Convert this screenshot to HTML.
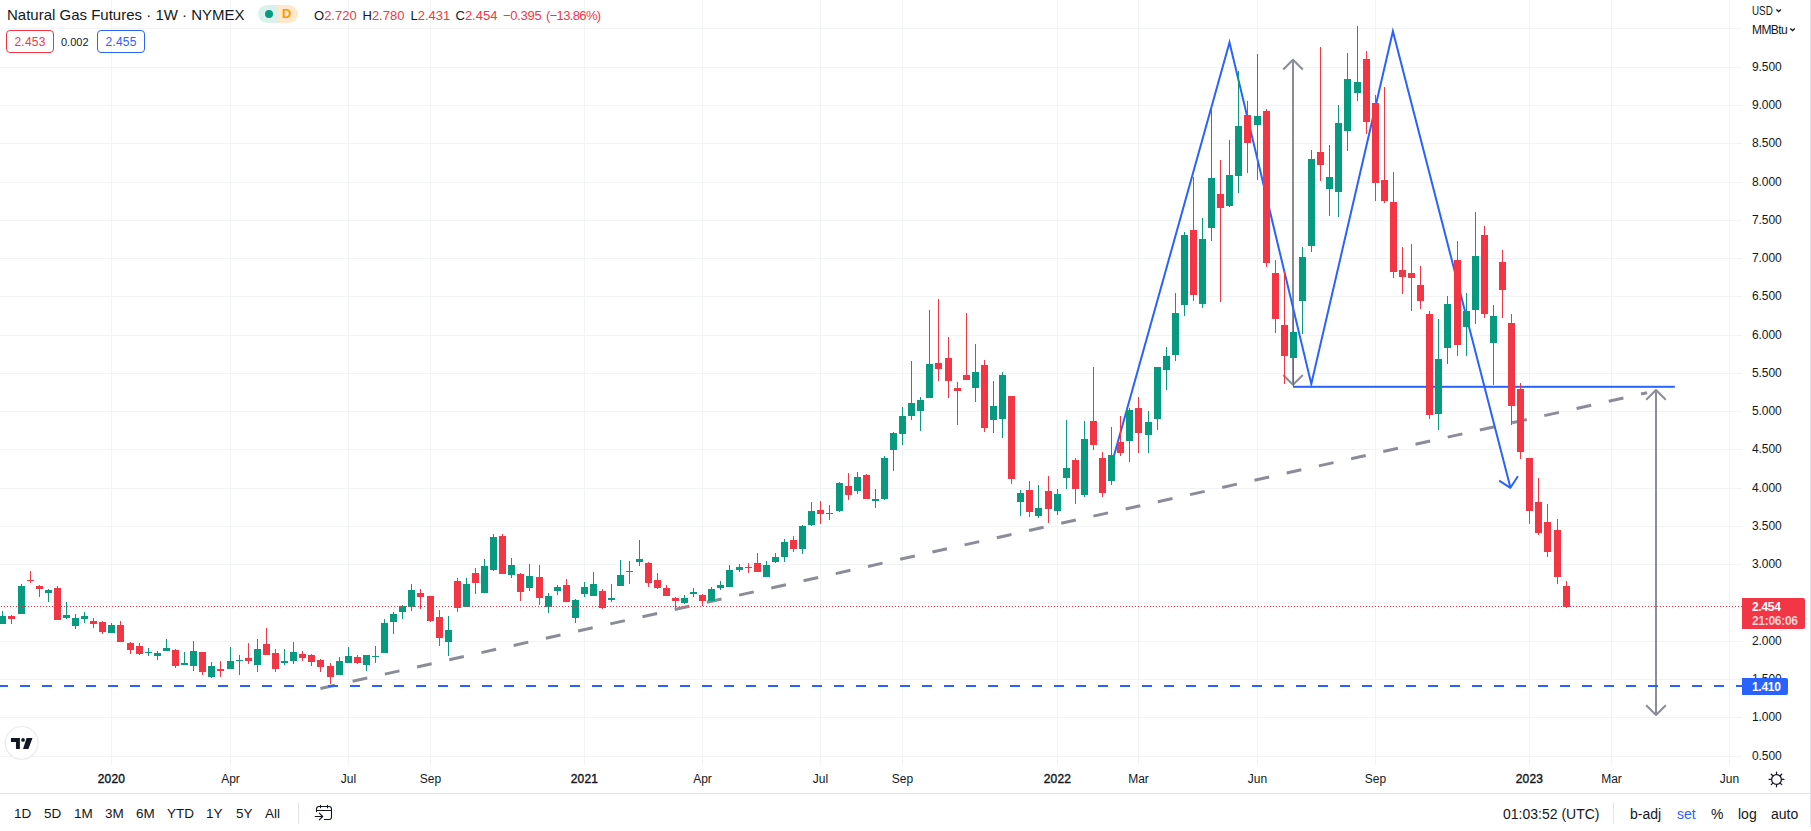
<!DOCTYPE html>
<html lang="en"><head><meta charset="utf-8"><title>Natural Gas Futures</title>
<style>
html,body{margin:0;padding:0}
body{width:1811px;height:831px;overflow:hidden;background:#fff;position:relative;font-family:"Liberation Sans",sans-serif;color:#131722;font-size:12px}
#chart{position:absolute;left:0;top:0}
.abs{position:absolute;white-space:nowrap}
.pl{position:absolute;left:1752px;width:40px;height:14px;line-height:14px;font-size:12px;letter-spacing:-0.1px}
.tl{position:absolute;top:772px;width:61px;text-align:center;height:14px;line-height:14px;font-size:12px}
.tl.b{-webkit-text-stroke:.4px #131722;letter-spacing:.2px}
.tb{position:absolute;top:806px;height:16px;line-height:16px;font-size:13.5px;white-space:nowrap}
.red{color:#f23645}
</style></head><body>
<svg id="chart" width="1811" height="794" viewBox="0 0 1811 794">
<rect x="0" y="756" width="1742" height="1" fill="#f2f3f4"/>
<rect x="0" y="717" width="1742" height="1" fill="#f2f3f4"/>
<rect x="0" y="679" width="1742" height="1" fill="#f2f3f4"/>
<rect x="0" y="641" width="1742" height="1" fill="#f2f3f4"/>
<rect x="0" y="602" width="1742" height="1" fill="#f2f3f4"/>
<rect x="0" y="564" width="1742" height="1" fill="#f2f3f4"/>
<rect x="0" y="526" width="1742" height="1" fill="#f2f3f4"/>
<rect x="0" y="488" width="1742" height="1" fill="#f2f3f4"/>
<rect x="0" y="449" width="1742" height="1" fill="#f2f3f4"/>
<rect x="0" y="411" width="1742" height="1" fill="#f2f3f4"/>
<rect x="0" y="373" width="1742" height="1" fill="#f2f3f4"/>
<rect x="0" y="335" width="1742" height="1" fill="#f2f3f4"/>
<rect x="0" y="296" width="1742" height="1" fill="#f2f3f4"/>
<rect x="0" y="258" width="1742" height="1" fill="#f2f3f4"/>
<rect x="0" y="220" width="1742" height="1" fill="#f2f3f4"/>
<rect x="0" y="182" width="1742" height="1" fill="#f2f3f4"/>
<rect x="0" y="143" width="1742" height="1" fill="#f2f3f4"/>
<rect x="0" y="105" width="1742" height="1" fill="#f2f3f4"/>
<rect x="0" y="67" width="1742" height="1" fill="#f2f3f4"/>
<rect x="0" y="28" width="1742" height="1" fill="#f2f3f4"/>
<rect x="111" y="0" width="1" height="765" fill="#f2f3f4"/>
<rect x="230" y="0" width="1" height="765" fill="#f2f3f4"/>
<rect x="348" y="0" width="1" height="765" fill="#f2f3f4"/>
<rect x="430" y="0" width="1" height="765" fill="#f2f3f4"/>
<rect x="584" y="0" width="1" height="765" fill="#f2f3f4"/>
<rect x="702" y="0" width="1" height="765" fill="#f2f3f4"/>
<rect x="820" y="0" width="1" height="765" fill="#f2f3f4"/>
<rect x="902" y="0" width="1" height="765" fill="#f2f3f4"/>
<rect x="1057" y="0" width="1" height="765" fill="#f2f3f4"/>
<rect x="1138" y="0" width="1" height="765" fill="#f2f3f4"/>
<rect x="1257" y="0" width="1" height="765" fill="#f2f3f4"/>
<rect x="1375" y="0" width="1" height="765" fill="#f2f3f4"/>
<rect x="1529" y="0" width="1" height="765" fill="#f2f3f4"/>
<rect x="1611" y="0" width="1" height="765" fill="#f2f3f4"/>
<rect x="1729" y="0" width="1" height="765" fill="#f2f3f4"/>
<line x1="320.4" y1="688.5" x2="1647.1" y2="392.7" stroke="#8a8d98" stroke-width="3" stroke-dasharray="15 18"/>
<path d="M1293 59.7V384.8M1283.2 69.5L1293 59.7L1302.8 69.5M1283.2 375.0L1293 384.8L1302.8 375.0" fill="none" stroke="#8a8d98" stroke-width="2" stroke-linejoin="round"/>
<path d="M1656 390V715M1646.2 399.8L1656 390L1665.8 399.8M1646.2 705.2L1656 715L1665.8 705.2" fill="none" stroke="#8a8d98" stroke-width="2" stroke-linejoin="round"/>
<path d="M1112.5 461L1229.5 42.6L1311.3 384L1392.9 31.3L1510.4 487.5" fill="none" stroke="#2962ff" stroke-width="2" stroke-miterlimit="10"/>
<path d="M1499.2 480.6L1510.4 487.8L1517.9 476.2" fill="none" stroke="#2962ff" stroke-width="2" stroke-linejoin="round"/>
<rect x="1293" y="385.8" width="381.8" height="2" fill="#2962ff"/>
<g shape-rendering="crispEdges"><rect x="2" y="611" width="1" height="13" fill="#089981"/><rect x="-1" y="616" width="7" height="8" fill="#089981"/><rect x="11" y="615" width="1" height="9" fill="#f23645"/><rect x="8" y="616" width="7" height="3" fill="#f23645"/><rect x="21" y="584" width="1" height="30" fill="#089981"/><rect x="18" y="586" width="7" height="28" fill="#089981"/><rect x="30" y="571" width="1" height="12" fill="#f23645"/><rect x="27" y="580" width="7" height="1" fill="#f23645"/><rect x="39" y="585" width="1" height="12" fill="#f23645"/><rect x="36" y="586" width="7" height="3" fill="#f23645"/><rect x="48" y="589" width="1" height="13" fill="#089981"/><rect x="45" y="590" width="7" height="3" fill="#089981"/><rect x="57" y="586" width="1" height="34" fill="#f23645"/><rect x="54" y="588" width="7" height="32" fill="#f23645"/><rect x="66" y="602" width="1" height="17" fill="#089981"/><rect x="63" y="615" width="7" height="3" fill="#089981"/><rect x="75" y="614" width="1" height="15" fill="#089981"/><rect x="72" y="618" width="7" height="8" fill="#089981"/><rect x="84" y="612" width="1" height="11" fill="#089981"/><rect x="81" y="616" width="7" height="3" fill="#089981"/><rect x="93" y="618" width="1" height="10" fill="#f23645"/><rect x="90" y="621" width="7" height="3" fill="#f23645"/><rect x="102" y="621" width="1" height="13" fill="#f23645"/><rect x="99" y="622" width="7" height="10" fill="#f23645"/><rect x="111" y="623" width="1" height="10" fill="#089981"/><rect x="108" y="625" width="7" height="8" fill="#089981"/><rect x="120" y="621" width="1" height="21" fill="#f23645"/><rect x="117" y="625" width="7" height="17" fill="#f23645"/><rect x="130" y="642" width="1" height="12" fill="#f23645"/><rect x="127" y="643" width="7" height="7" fill="#f23645"/><rect x="139" y="643" width="1" height="12" fill="#f23645"/><rect x="136" y="646" width="7" height="8" fill="#f23645"/><rect x="148" y="648" width="1" height="8" fill="#089981"/><rect x="145" y="652" width="7" height="1" fill="#089981"/><rect x="157" y="651" width="1" height="9" fill="#089981"/><rect x="154" y="653" width="7" height="3" fill="#089981"/><rect x="166" y="639" width="1" height="12" fill="#089981"/><rect x="163" y="648" width="7" height="3" fill="#089981"/><rect x="175" y="649" width="1" height="19" fill="#f23645"/><rect x="172" y="650" width="7" height="16" fill="#f23645"/><rect x="184" y="652" width="1" height="13" fill="#089981"/><rect x="181" y="663" width="7" height="2" fill="#089981"/><rect x="193" y="641" width="1" height="30" fill="#089981"/><rect x="190" y="651" width="7" height="15" fill="#089981"/><rect x="202" y="652" width="1" height="23" fill="#f23645"/><rect x="199" y="652" width="7" height="20" fill="#f23645"/><rect x="211" y="662" width="1" height="16" fill="#089981"/><rect x="208" y="666" width="7" height="11" fill="#089981"/><rect x="220" y="661" width="1" height="16" fill="#f23645"/><rect x="217" y="669" width="7" height="2" fill="#f23645"/><rect x="230" y="647" width="1" height="22" fill="#089981"/><rect x="227" y="661" width="7" height="8" fill="#089981"/><rect x="239" y="655" width="1" height="20" fill="#089981"/><rect x="236" y="660" width="7" height="1" fill="#089981"/><rect x="248" y="643" width="1" height="21" fill="#f23645"/><rect x="245" y="658" width="7" height="3" fill="#f23645"/><rect x="257" y="639" width="1" height="33" fill="#089981"/><rect x="254" y="649" width="7" height="16" fill="#089981"/><rect x="266" y="628" width="1" height="27" fill="#f23645"/><rect x="263" y="644" width="7" height="11" fill="#f23645"/><rect x="275" y="649" width="1" height="23" fill="#f23645"/><rect x="272" y="653" width="7" height="16" fill="#f23645"/><rect x="284" y="649" width="1" height="16" fill="#089981"/><rect x="281" y="661" width="7" height="2" fill="#089981"/><rect x="293" y="642" width="1" height="22" fill="#089981"/><rect x="290" y="652" width="7" height="9" fill="#089981"/><rect x="302" y="651" width="1" height="10" fill="#f23645"/><rect x="299" y="654" width="7" height="4" fill="#f23645"/><rect x="311" y="654" width="1" height="12" fill="#f23645"/><rect x="308" y="655" width="7" height="7" fill="#f23645"/><rect x="320" y="659" width="1" height="13" fill="#f23645"/><rect x="317" y="660" width="7" height="7" fill="#f23645"/><rect x="330" y="663" width="1" height="21" fill="#f23645"/><rect x="327" y="666" width="7" height="11" fill="#f23645"/><rect x="339" y="657" width="1" height="18" fill="#089981"/><rect x="336" y="661" width="7" height="14" fill="#089981"/><rect x="348" y="647" width="1" height="16" fill="#089981"/><rect x="345" y="656" width="7" height="7" fill="#089981"/><rect x="357" y="655" width="1" height="9" fill="#f23645"/><rect x="354" y="657" width="7" height="6" fill="#f23645"/><rect x="366" y="655" width="1" height="16" fill="#089981"/><rect x="363" y="655" width="7" height="10" fill="#089981"/><rect x="375" y="646" width="1" height="17" fill="#089981"/><rect x="372" y="656" width="7" height="1" fill="#089981"/><rect x="384" y="619" width="1" height="34" fill="#089981"/><rect x="381" y="623" width="7" height="30" fill="#089981"/><rect x="393" y="612" width="1" height="22" fill="#089981"/><rect x="390" y="614" width="7" height="8" fill="#089981"/><rect x="402" y="605" width="1" height="14" fill="#089981"/><rect x="399" y="606" width="7" height="6" fill="#089981"/><rect x="411" y="584" width="1" height="27" fill="#089981"/><rect x="408" y="590" width="7" height="17" fill="#089981"/><rect x="420" y="589" width="1" height="20" fill="#f23645"/><rect x="417" y="593" width="7" height="4" fill="#f23645"/><rect x="430" y="596" width="1" height="26" fill="#f23645"/><rect x="427" y="596" width="7" height="25" fill="#f23645"/><rect x="439" y="610" width="1" height="36" fill="#f23645"/><rect x="436" y="617" width="7" height="21" fill="#f23645"/><rect x="448" y="616" width="1" height="40" fill="#089981"/><rect x="445" y="630" width="7" height="12" fill="#089981"/><rect x="457" y="578" width="1" height="34" fill="#f23645"/><rect x="454" y="581" width="7" height="27" fill="#f23645"/><rect x="466" y="578" width="1" height="29" fill="#089981"/><rect x="463" y="584" width="7" height="23" fill="#089981"/><rect x="475" y="568" width="1" height="26" fill="#f23645"/><rect x="472" y="573" width="7" height="10" fill="#f23645"/><rect x="484" y="559" width="1" height="34" fill="#089981"/><rect x="481" y="566" width="7" height="27" fill="#089981"/><rect x="493" y="534" width="1" height="37" fill="#089981"/><rect x="490" y="537" width="7" height="33" fill="#089981"/><rect x="502" y="534" width="1" height="40" fill="#f23645"/><rect x="499" y="536" width="7" height="38" fill="#f23645"/><rect x="511" y="558" width="1" height="20" fill="#089981"/><rect x="508" y="565" width="7" height="10" fill="#089981"/><rect x="520" y="573" width="1" height="28" fill="#f23645"/><rect x="517" y="574" width="7" height="18" fill="#f23645"/><rect x="529" y="564" width="1" height="27" fill="#089981"/><rect x="526" y="576" width="7" height="12" fill="#089981"/><rect x="539" y="565" width="1" height="40" fill="#f23645"/><rect x="536" y="577" width="7" height="21" fill="#f23645"/><rect x="548" y="593" width="1" height="20" fill="#089981"/><rect x="545" y="596" width="7" height="11" fill="#089981"/><rect x="557" y="585" width="1" height="10" fill="#089981"/><rect x="554" y="587" width="7" height="4" fill="#089981"/><rect x="566" y="579" width="1" height="23" fill="#f23645"/><rect x="563" y="585" width="7" height="17" fill="#f23645"/><rect x="575" y="599" width="1" height="24" fill="#089981"/><rect x="572" y="600" width="7" height="18" fill="#089981"/><rect x="584" y="582" width="1" height="15" fill="#089981"/><rect x="581" y="587" width="7" height="7" fill="#089981"/><rect x="593" y="572" width="1" height="24" fill="#089981"/><rect x="590" y="584" width="7" height="12" fill="#089981"/><rect x="602" y="589" width="1" height="20" fill="#f23645"/><rect x="599" y="591" width="7" height="17" fill="#f23645"/><rect x="611" y="584" width="1" height="18" fill="#089981"/><rect x="608" y="598" width="7" height="2" fill="#089981"/><rect x="620" y="560" width="1" height="26" fill="#089981"/><rect x="617" y="575" width="7" height="11" fill="#089981"/><rect x="629" y="561" width="1" height="23" fill="#089981"/><rect x="626" y="571" width="7" height="1" fill="#089981"/><rect x="639" y="540" width="1" height="26" fill="#089981"/><rect x="636" y="559" width="7" height="3" fill="#089981"/><rect x="648" y="562" width="1" height="25" fill="#f23645"/><rect x="645" y="563" width="7" height="20" fill="#f23645"/><rect x="657" y="573" width="1" height="16" fill="#f23645"/><rect x="654" y="580" width="7" height="8" fill="#f23645"/><rect x="666" y="585" width="1" height="11" fill="#f23645"/><rect x="663" y="588" width="7" height="8" fill="#f23645"/><rect x="675" y="597" width="1" height="11" fill="#f23645"/><rect x="672" y="598" width="7" height="3" fill="#f23645"/><rect x="684" y="595" width="1" height="9" fill="#089981"/><rect x="681" y="598" width="7" height="5" fill="#089981"/><rect x="693" y="588" width="1" height="9" fill="#089981"/><rect x="690" y="592" width="7" height="2" fill="#089981"/><rect x="702" y="594" width="1" height="12" fill="#f23645"/><rect x="699" y="595" width="7" height="6" fill="#f23645"/><rect x="711" y="587" width="1" height="14" fill="#089981"/><rect x="708" y="589" width="7" height="12" fill="#089981"/><rect x="720" y="581" width="1" height="9" fill="#089981"/><rect x="717" y="585" width="7" height="3" fill="#089981"/><rect x="729" y="565" width="1" height="22" fill="#089981"/><rect x="726" y="570" width="7" height="17" fill="#089981"/><rect x="739" y="564" width="1" height="8" fill="#089981"/><rect x="736" y="567" width="7" height="3" fill="#089981"/><rect x="748" y="563" width="1" height="10" fill="#f23645"/><rect x="745" y="567" width="7" height="1" fill="#f23645"/><rect x="757" y="553" width="1" height="19" fill="#f23645"/><rect x="754" y="563" width="7" height="9" fill="#f23645"/><rect x="766" y="561" width="1" height="16" fill="#089981"/><rect x="763" y="565" width="7" height="12" fill="#089981"/><rect x="775" y="553" width="1" height="10" fill="#089981"/><rect x="772" y="557" width="7" height="5" fill="#089981"/><rect x="784" y="539" width="1" height="23" fill="#089981"/><rect x="781" y="542" width="7" height="15" fill="#089981"/><rect x="793" y="536" width="1" height="16" fill="#f23645"/><rect x="790" y="540" width="7" height="9" fill="#f23645"/><rect x="802" y="525" width="1" height="29" fill="#089981"/><rect x="799" y="526" width="7" height="23" fill="#089981"/><rect x="811" y="502" width="1" height="24" fill="#089981"/><rect x="808" y="511" width="7" height="14" fill="#089981"/><rect x="820" y="501" width="1" height="23" fill="#f23645"/><rect x="817" y="510" width="7" height="4" fill="#f23645"/><rect x="829" y="505" width="1" height="15" fill="#089981"/><rect x="826" y="513" width="7" height="1" fill="#089981"/><rect x="839" y="482" width="1" height="30" fill="#089981"/><rect x="836" y="483" width="7" height="28" fill="#089981"/><rect x="848" y="473" width="1" height="27" fill="#f23645"/><rect x="845" y="486" width="7" height="9" fill="#f23645"/><rect x="857" y="472" width="1" height="22" fill="#089981"/><rect x="854" y="477" width="7" height="14" fill="#089981"/><rect x="866" y="474" width="1" height="25" fill="#f23645"/><rect x="863" y="475" width="7" height="24" fill="#f23645"/><rect x="875" y="489" width="1" height="19" fill="#089981"/><rect x="872" y="499" width="7" height="2" fill="#089981"/><rect x="884" y="456" width="1" height="44" fill="#089981"/><rect x="881" y="458" width="7" height="41" fill="#089981"/><rect x="893" y="432" width="1" height="39" fill="#089981"/><rect x="890" y="433" width="7" height="17" fill="#089981"/><rect x="902" y="407" width="1" height="38" fill="#089981"/><rect x="899" y="416" width="7" height="18" fill="#089981"/><rect x="911" y="361" width="1" height="59" fill="#089981"/><rect x="908" y="403" width="7" height="13" fill="#089981"/><rect x="920" y="397" width="1" height="34" fill="#089981"/><rect x="917" y="400" width="7" height="11" fill="#089981"/><rect x="929" y="310" width="1" height="88" fill="#089981"/><rect x="926" y="364" width="7" height="34" fill="#089981"/><rect x="938" y="299" width="1" height="82" fill="#f23645"/><rect x="935" y="363" width="7" height="6" fill="#f23645"/><rect x="948" y="337" width="1" height="61" fill="#f23645"/><rect x="945" y="358" width="7" height="23" fill="#f23645"/><rect x="957" y="382" width="1" height="43" fill="#f23645"/><rect x="954" y="388" width="7" height="3" fill="#f23645"/><rect x="966" y="313" width="1" height="67" fill="#f23645"/><rect x="963" y="375" width="7" height="5" fill="#f23645"/><rect x="975" y="344" width="1" height="58" fill="#089981"/><rect x="972" y="372" width="7" height="16" fill="#089981"/><rect x="984" y="360" width="1" height="72" fill="#f23645"/><rect x="981" y="365" width="7" height="63" fill="#f23645"/><rect x="993" y="381" width="1" height="52" fill="#089981"/><rect x="990" y="406" width="7" height="14" fill="#089981"/><rect x="1002" y="372" width="1" height="66" fill="#089981"/><rect x="999" y="375" width="7" height="44" fill="#089981"/><rect x="1011" y="396" width="1" height="88" fill="#f23645"/><rect x="1008" y="396" width="7" height="83" fill="#f23645"/><rect x="1020" y="490" width="1" height="26" fill="#089981"/><rect x="1017" y="493" width="7" height="9" fill="#089981"/><rect x="1029" y="481" width="1" height="36" fill="#f23645"/><rect x="1026" y="490" width="7" height="22" fill="#f23645"/><rect x="1038" y="485" width="1" height="33" fill="#089981"/><rect x="1035" y="508" width="7" height="8" fill="#089981"/><rect x="1048" y="476" width="1" height="47" fill="#f23645"/><rect x="1045" y="491" width="7" height="18" fill="#f23645"/><rect x="1057" y="489" width="1" height="26" fill="#089981"/><rect x="1054" y="494" width="7" height="17" fill="#089981"/><rect x="1066" y="420" width="1" height="69" fill="#089981"/><rect x="1063" y="468" width="7" height="10" fill="#089981"/><rect x="1075" y="458" width="1" height="46" fill="#f23645"/><rect x="1072" y="460" width="7" height="29" fill="#f23645"/><rect x="1084" y="421" width="1" height="76" fill="#089981"/><rect x="1081" y="439" width="7" height="56" fill="#089981"/><rect x="1093" y="367" width="1" height="83" fill="#f23645"/><rect x="1090" y="421" width="7" height="24" fill="#f23645"/><rect x="1102" y="452" width="1" height="45" fill="#f23645"/><rect x="1099" y="458" width="7" height="35" fill="#f23645"/><rect x="1111" y="427" width="1" height="58" fill="#089981"/><rect x="1108" y="455" width="7" height="26" fill="#089981"/><rect x="1120" y="416" width="1" height="40" fill="#f23645"/><rect x="1117" y="442" width="7" height="11" fill="#f23645"/><rect x="1129" y="408" width="1" height="54" fill="#089981"/><rect x="1126" y="410" width="7" height="31" fill="#089981"/><rect x="1138" y="397" width="1" height="56" fill="#f23645"/><rect x="1135" y="408" width="7" height="25" fill="#f23645"/><rect x="1148" y="411" width="1" height="42" fill="#089981"/><rect x="1145" y="422" width="7" height="13" fill="#089981"/><rect x="1157" y="367" width="1" height="63" fill="#089981"/><rect x="1154" y="367" width="7" height="52" fill="#089981"/><rect x="1166" y="347" width="1" height="43" fill="#089981"/><rect x="1163" y="356" width="7" height="14" fill="#089981"/><rect x="1175" y="293" width="1" height="68" fill="#089981"/><rect x="1172" y="313" width="7" height="42" fill="#089981"/><rect x="1184" y="232" width="1" height="84" fill="#089981"/><rect x="1181" y="235" width="7" height="70" fill="#089981"/><rect x="1193" y="177" width="1" height="124" fill="#f23645"/><rect x="1190" y="230" width="7" height="65" fill="#f23645"/><rect x="1202" y="218" width="1" height="90" fill="#089981"/><rect x="1199" y="239" width="7" height="65" fill="#089981"/><rect x="1211" y="105" width="1" height="136" fill="#089981"/><rect x="1208" y="178" width="7" height="50" fill="#089981"/><rect x="1220" y="160" width="1" height="142" fill="#f23645"/><rect x="1217" y="194" width="7" height="14" fill="#f23645"/><rect x="1229" y="140" width="1" height="67" fill="#089981"/><rect x="1226" y="175" width="7" height="31" fill="#089981"/><rect x="1238" y="71" width="1" height="122" fill="#089981"/><rect x="1235" y="126" width="7" height="50" fill="#089981"/><rect x="1247" y="101" width="1" height="72" fill="#f23645"/><rect x="1244" y="115" width="7" height="28" fill="#f23645"/><rect x="1257" y="54" width="1" height="126" fill="#089981"/><rect x="1254" y="116" width="7" height="9" fill="#089981"/><rect x="1266" y="109" width="1" height="158" fill="#f23645"/><rect x="1263" y="111" width="7" height="152" fill="#f23645"/><rect x="1275" y="260" width="1" height="73" fill="#f23645"/><rect x="1272" y="273" width="7" height="46" fill="#f23645"/><rect x="1284" y="271" width="1" height="113" fill="#f23645"/><rect x="1281" y="325" width="7" height="31" fill="#f23645"/><rect x="1293" y="305" width="1" height="81" fill="#089981"/><rect x="1290" y="332" width="7" height="26" fill="#089981"/><rect x="1302" y="247" width="1" height="87" fill="#089981"/><rect x="1299" y="257" width="7" height="44" fill="#089981"/><rect x="1311" y="150" width="1" height="102" fill="#089981"/><rect x="1308" y="159" width="7" height="87" fill="#089981"/><rect x="1320" y="47" width="1" height="134" fill="#f23645"/><rect x="1317" y="152" width="7" height="13" fill="#f23645"/><rect x="1329" y="145" width="1" height="71" fill="#089981"/><rect x="1326" y="177" width="7" height="12" fill="#089981"/><rect x="1338" y="105" width="1" height="112" fill="#089981"/><rect x="1335" y="123" width="7" height="69" fill="#089981"/><rect x="1347" y="53" width="1" height="98" fill="#089981"/><rect x="1344" y="79" width="7" height="52" fill="#089981"/><rect x="1357" y="26" width="1" height="75" fill="#089981"/><rect x="1354" y="82" width="7" height="11" fill="#089981"/><rect x="1366" y="51" width="1" height="83" fill="#f23645"/><rect x="1363" y="59" width="7" height="63" fill="#f23645"/><rect x="1375" y="95" width="1" height="106" fill="#f23645"/><rect x="1372" y="103" width="7" height="80" fill="#f23645"/><rect x="1384" y="87" width="1" height="116" fill="#f23645"/><rect x="1381" y="180" width="7" height="21" fill="#f23645"/><rect x="1393" y="172" width="1" height="106" fill="#f23645"/><rect x="1390" y="202" width="7" height="70" fill="#f23645"/><rect x="1402" y="247" width="1" height="47" fill="#f23645"/><rect x="1399" y="270" width="7" height="7" fill="#f23645"/><rect x="1411" y="244" width="1" height="67" fill="#f23645"/><rect x="1408" y="273" width="7" height="5" fill="#f23645"/><rect x="1420" y="266" width="1" height="43" fill="#f23645"/><rect x="1417" y="285" width="7" height="16" fill="#f23645"/><rect x="1429" y="311" width="1" height="108" fill="#f23645"/><rect x="1426" y="314" width="7" height="101" fill="#f23645"/><rect x="1438" y="319" width="1" height="111" fill="#089981"/><rect x="1435" y="359" width="7" height="55" fill="#089981"/><rect x="1447" y="296" width="1" height="68" fill="#089981"/><rect x="1444" y="304" width="7" height="44" fill="#089981"/><rect x="1457" y="241" width="1" height="115" fill="#f23645"/><rect x="1454" y="260" width="7" height="85" fill="#f23645"/><rect x="1466" y="293" width="1" height="63" fill="#089981"/><rect x="1463" y="311" width="7" height="16" fill="#089981"/><rect x="1475" y="212" width="1" height="112" fill="#089981"/><rect x="1472" y="256" width="7" height="54" fill="#089981"/><rect x="1484" y="226" width="1" height="92" fill="#f23645"/><rect x="1481" y="235" width="7" height="79" fill="#f23645"/><rect x="1493" y="305" width="1" height="80" fill="#089981"/><rect x="1490" y="316" width="7" height="27" fill="#089981"/><rect x="1502" y="250" width="1" height="68" fill="#f23645"/><rect x="1499" y="262" width="7" height="28" fill="#f23645"/><rect x="1511" y="314" width="1" height="111" fill="#f23645"/><rect x="1508" y="323" width="7" height="83" fill="#f23645"/><rect x="1520" y="383" width="1" height="76" fill="#f23645"/><rect x="1517" y="389" width="7" height="63" fill="#f23645"/><rect x="1529" y="458" width="1" height="66" fill="#f23645"/><rect x="1526" y="458" width="7" height="53" fill="#f23645"/><rect x="1538" y="478" width="1" height="57" fill="#f23645"/><rect x="1535" y="502" width="7" height="31" fill="#f23645"/><rect x="1547" y="504" width="1" height="53" fill="#f23645"/><rect x="1544" y="522" width="7" height="30" fill="#f23645"/><rect x="1557" y="519" width="1" height="65" fill="#f23645"/><rect x="1554" y="530" width="7" height="47" fill="#f23645"/><rect x="1566" y="581" width="1" height="27" fill="#f23645"/><rect x="1563" y="586" width="7" height="21" fill="#f23645"/></g>
<line x1="-2" y1="686" x2="1742" y2="686" stroke="#2962ff" stroke-width="2" stroke-dasharray="10 12"/>
<line x1="-2" y1="606.5" x2="1742" y2="606.5" stroke="#f23645" stroke-width="1" stroke-dasharray="1 2"/>
</svg>
<!-- legend -->
<div class="abs" id="title" style="left:7px;top:5.5px;font-size:15px;line-height:18px;letter-spacing:0">Natural Gas Futures · 1W · NYMEX</div>
<div class="abs" style="left:258px;top:5px;width:40px;height:18px;border-radius:9px;overflow:hidden;background:linear-gradient(90deg,#daf0ec 0,#daf0ec 50%,#ffe8cc 50%,#ffe8cc 100%)"></div>
<div class="abs" style="left:265px;top:10px;width:8px;height:8px;border-radius:50%;background:#089981"></div>
<div class="abs" style="left:282px;top:6px;font-size:13px;line-height:16px;font-weight:bold;color:#ff9800">D</div>
<div class="abs ohlc" style="left:314px;top:8px;font-size:13px;line-height:15px"><span id="o1">O<span class="red">2.720</span></span></div>
<div class="abs ohlc" style="left:362.5px;top:8px;font-size:13px;line-height:15px">H<span class="red">2.780</span></div>
<div class="abs ohlc" style="left:410.5px;top:8px;font-size:13px;line-height:15px">L<span class="red">2.431</span></div>
<div class="abs ohlc" style="left:455.5px;top:8px;font-size:13px;line-height:15px">C<span class="red">2.454</span></div>
<div class="abs ohlc red" style="left:503px;top:8px;font-size:13px;line-height:15px;letter-spacing:-0.3px">−0.395</div>
<div class="abs ohlc red" style="left:546px;top:8px;font-size:13px;line-height:15px;letter-spacing:-0.65px">(−13.86%)</div>
<div class="abs" style="left:6px;top:30px;width:46px;height:21px;border:1px solid #f23645;border-radius:4px;color:#f23645;text-align:center;line-height:23px;font-size:12px;letter-spacing:.2px">2.453</div>
<div class="abs" style="left:61px;top:31px;line-height:22px;font-size:11px">0.002</div>
<div class="abs" style="left:97px;top:30px;width:46px;height:21px;border:1px solid #2962ff;border-radius:4px;color:#2962ff;text-align:center;line-height:23px;font-size:12px;letter-spacing:.2px">2.455</div>
<!-- price axis -->
<div class="abs" style="left:1752px;top:4px;font-size:12px;line-height:14px;transform:scaleX(.82);transform-origin:0 0">USD</div>
<div class="abs" style="left:1752px;top:23px;font-size:12px;line-height:14px;letter-spacing:-0.6px">MMBtu</div>
<svg class="abs" style="left:1774px;top:6px" width="10" height="8" viewBox="1774 6 10 8"><path d="M1776.4 9.4L1778.65 11.5L1780.9 9.4" fill="none" stroke="#131722" stroke-width="1.3"/></svg>
<svg class="abs" style="left:1788px;top:25px" width="10" height="8" viewBox="1788 25 10 8"><path d="M1790.3 28.4L1792.55 30.5L1794.8 28.4" fill="none" stroke="#131722" stroke-width="1.3"/></svg>
<div class="pl" style="top:749px">0.500</div><div class="pl" style="top:710px">1.000</div><div class="pl" style="top:672px">1.500</div><div class="pl" style="top:634px">2.000</div><div class="pl" style="top:557px">3.000</div><div class="pl" style="top:519px">3.500</div><div class="pl" style="top:481px">4.000</div><div class="pl" style="top:442px">4.500</div><div class="pl" style="top:404px">5.000</div><div class="pl" style="top:366px">5.500</div><div class="pl" style="top:328px">6.000</div><div class="pl" style="top:289px">6.500</div><div class="pl" style="top:251px">7.000</div><div class="pl" style="top:213px">7.500</div><div class="pl" style="top:175px">8.000</div><div class="pl" style="top:136px">8.500</div><div class="pl" style="top:98px">9.000</div><div class="pl" style="top:60px">9.500</div>
<div class="abs" style="left:1742px;top:598px;width:63px;height:31px;background:#f23645;border-radius:0 2px 2px 0"></div>
<div class="abs" style="left:1752px;top:600px;font-size:12px;line-height:14px;font-weight:bold;color:#fff;letter-spacing:-0.3px">2.454</div>
<div class="abs" style="left:1752px;top:614px;font-size:12px;line-height:14px;font-weight:bold;color:rgba(255,255,255,.78);letter-spacing:-0.3px">21:06:06</div>
<div class="abs" style="left:1742px;top:678px;width:46px;height:17px;background:#2962ff;border-radius:0 2px 2px 0"></div>
<div class="abs" style="left:1752px;top:680px;font-size:12px;line-height:15px;font-weight:bold;color:#fff;letter-spacing:-0.3px">1.410</div>
<!-- logo -->
<svg class="abs" style="left:0;top:720px" width="60" height="50" viewBox="0 720 60 50"><circle cx="21.7" cy="742.9" r="16.4" fill="#fff" stroke="#e9eaed" stroke-width="1.1"/><path d="M10.95 737.9H19.9V748.9H15.95V742H10.95Z M26.6 737.9H32.5L28.4 748.9H23.05Z" fill="#131722"/><circle cx="23.05" cy="739.9" r="1.85" fill="#131722"/></svg>
<!-- time axis -->
<div class="tl b" style="left:81px">2020</div><div class="tl" style="left:200px">Apr</div><div class="tl" style="left:318px">Jul</div><div class="tl" style="left:400px">Sep</div><div class="tl b" style="left:554px">2021</div><div class="tl" style="left:672px">Apr</div><div class="tl" style="left:790px">Jul</div><div class="tl" style="left:872px">Sep</div><div class="tl b" style="left:1027px">2022</div><div class="tl" style="left:1108px">Mar</div><div class="tl" style="left:1227px">Jun</div><div class="tl" style="left:1345px">Sep</div><div class="tl b" style="left:1499px">2023</div><div class="tl" style="left:1581px">Mar</div><div class="tl" style="left:1699px">Jun</div>
<svg class="abs" style="left:1760px;top:765px" width="34" height="28" viewBox="1760 765 34 28"><g fill="none" stroke="#131722" stroke-width="1.2"><circle cx="1776.5" cy="779.45" r="4.9"/><path d="M1781.70 779.45L1783.90 779.45M1780.18 783.13L1781.73 784.68M1776.50 784.65L1776.50 786.85M1772.82 783.13L1771.27 784.68M1771.30 779.45L1769.10 779.45M1772.82 775.77L1771.27 774.22M1776.50 774.25L1776.50 772.05M1780.18 775.77L1781.73 774.22" stroke-linecap="round"/></g></svg>
<div class="abs" style="left:0;top:793px;width:1810px;height:1px;background:#e0e3eb"></div>
<div class="abs" style="left:1810px;top:0;width:1px;height:827px;background:#e0e3eb"></div>
<!-- bottom toolbar -->
<div class="tb" style="left:14px">1D</div>
<div class="tb" style="left:44px">5D</div>
<div class="tb" style="left:74px">1M</div>
<div class="tb" style="left:105px">3M</div>
<div class="tb" style="left:136px">6M</div>
<div class="tb" style="left:167px">YTD</div>
<div class="tb" style="left:206px">1Y</div>
<div class="tb" style="left:236px">5Y</div>
<div class="tb" style="left:265px">All</div>
<div class="abs" style="left:298px;top:802px;width:1px;height:22px;background:#e0e3eb"></div>
<svg class="abs" style="left:310px;top:800px" width="28" height="26" viewBox="310 800 28 26"><g fill="none" stroke="#131722" stroke-width="1.1" stroke-linecap="round" stroke-linejoin="round"><path d="M316.5 811.6V809a2.5 2.5 0 0 1 2.5-2.5H329a2.5 2.5 0 0 1 2.5 2.5V817a2.5 2.5 0 0 1-2.5 2.5H324.4M316.5 810.5H331.5M320.5 805.2V807.8M327.5 805.2V807.8M315.2 816.5H322.5M319.3 813.1L322.7 816.5L319.3 819.9"/></g></svg>
<div class="tb" style="left:1503px;font-size:14px">01:03:52 (UTC)</div>
<div class="abs" style="left:1613px;top:802px;width:1px;height:22px;background:#e0e3eb"></div>
<div class="tb" style="left:1630px;font-size:14px">b-adj</div>
<div class="tb" style="left:1677px;color:#2962ff;font-size:14px">set</div>
<div class="tb" style="left:1711px;font-size:14px">%</div>
<div class="tb" style="left:1738px;font-size:14px">log</div>
<div class="tb" style="left:1771px;font-size:14px">auto</div>
</body></html>
